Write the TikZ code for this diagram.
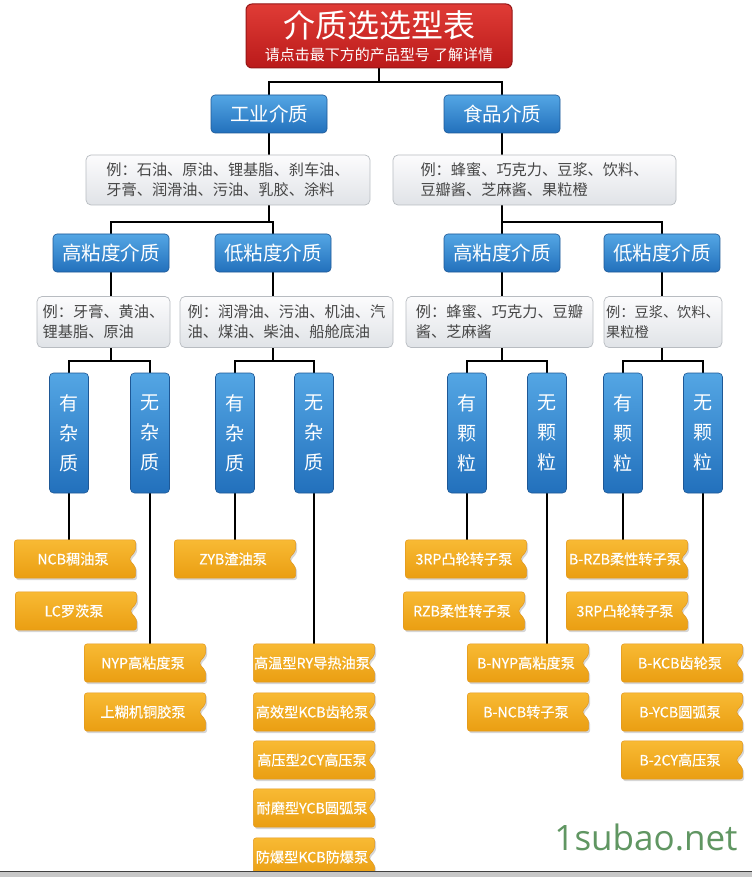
\documentclass[tikz,border=0pt]{standalone}
\usepackage{fontspec}
\setmainfont{Noto Sans CJK SC}
\newfontfamily\wmfont{Open Sans}
\newfontfamily\pumpfont{Noto Sans CJK SC}[FakeBold=0.5]
\usetikzlibrary{calc}
\pgfdeclarelayer{lines}
\pgfdeclarelayer{shapes}
\pgfsetlayers{lines,shapes,main}
\definecolor{redtop}{RGB}{224,60,54}
\definecolor{redbot}{RGB}{186,26,26}
\definecolor{redline}{RGB}{150,22,22}
\definecolor{bluetop}{RGB}{84,166,228}
\definecolor{bluebot}{RGB}{34,112,188}
\definecolor{blueline}{RGB}{30,88,150}
\definecolor{graytop}{RGB}{252,252,253}
\definecolor{graybot}{RGB}{224,227,231}
\definecolor{grayline}{RGB}{184,188,193}
\definecolor{graytext}{RGB}{70,70,70}
\definecolor{ortop}{RGB}{248,186,52}
\definecolor{orbot}{RGB}{234,158,18}
\definecolor{orline}{RGB}{226,152,30}
\definecolor{wmgreen}{RGB}{96,150,98}
\definecolor{barc}{RGB}{200,200,200}
\newcommand\pumppath[1]{(#1.north west) -- (#1.north east) -- ([yshift=-11pt]#1.north east) -- ([xshift=-7pt]#1.east) -- ([yshift=11pt]#1.south east) -- (#1.south east) -- (#1.south west) -- cycle}
\newcommand\pumpshape[1]{%
  \fill[black,opacity=.16,rounded corners=3pt,transform canvas={shift={(1.5pt,-2pt)}}] \pumppath{#1};
  \shade[top color=ortop,bottom color=orbot,draw=orline,line width=.5pt,rounded corners=3pt] \pumppath{#1};}
\tikzset{
  titlebox/.style={rounded corners=6pt,top color=redtop,bottom color=redbot,draw=redline,line width=1pt,
    minimum width=266pt,minimum height=64pt,text=white,align=center,inner sep=0pt},
  catbox/.style={rounded corners=4pt,top color=bluetop,bottom color=bluebot,draw=blueline,line width=.6pt,
    minimum width=116pt,minimum height=38pt,text=white,inner sep=0pt,font=\fontsize{19.5}{20}\selectfont},
  colbox/.style={rounded corners=4pt,top color=bluetop,bottom color=bluebot,draw=blueline,line width=.6pt,
    minimum width=39pt,minimum height=120pt,text=white,inner sep=0pt,align=center,font=\fontsize{19}{30}\selectfont},
  exbox/.style={rounded corners=5pt,top color=graytop,bottom color=graybot,draw=grayline,line width=.7pt,
    minimum height=50pt,text=graytext,inner sep=0pt,align=left,font=\fontsize{15.2}{20}\selectfont},
  pump/.style={minimum width=121pt,minimum height=38pt,text=white,inner sep=0pt,font=\pumpfont\fontsize{14.2}{16}\selectfont},
  ptext/.style={xshift=-2pt},
  conn/.style={draw=black,line width=1.2pt}
}
\begin{document}
\begin{tikzpicture}[x=1pt,y=-1pt]
\useasboundingbox (0,0) rectangle (752,877);
% title
\node[titlebox] (title) at (379,36) {\raisebox{-2pt}{\fontsize{32}{32}\selectfont 介质选选型表}\\[7pt]{\fontsize{15}{15}\selectfont 请点击最下方的产品型号 了解详情}};
% categories
\node[catbox] (ind) at (269,114) {工业介质};
\node[catbox] (food) at (502,114) {食品介质};
\node[exbox,minimum width=284pt] (exI) at (228,180) {例：石油、原油、锂基脂、刹车油、\\牙膏、润滑油、污油、乳胶、涂料};
\node[exbox,minimum width=283pt] (exF) at (534.5,180) {例：蜂蜜、巧克力、豆浆、饮料、\\豆瓣酱、芝麻酱、果粒橙};
\node[catbox] (ih) at (111,253) {高粘度介质};
\node[catbox] (il) at (273,253) {低粘度介质};
\node[catbox] (fh) at (502,253) {高粘度介质};
\node[catbox] (fl) at (662,253) {低粘度介质};
\node[exbox,minimum width=133pt,minimum height=51pt] (exa) at (103.5,322) {例：牙膏、黄油、\\锂基脂、原油};
\node[exbox,minimum width=213pt,minimum height=51pt] (exb) at (286.5,322) {例：润滑油、污油、机油、汽\\油、煤油、柴油、船舱底油};
\node[exbox,minimum width=187pt,minimum height=51pt] (exc) at (499.5,322) {例：蜂蜜、巧克力、豆瓣\\酱、芝麻酱};
\node[exbox,minimum width=118pt,minimum height=51pt,font=\fontsize{14.2}{20}\selectfont] (exd) at (663,322) {例：豆浆、饮料、\\果粒橙};
% columns
\node[colbox] (c1) at (69,433) {有\\杂\\质};
\node[colbox] (c2) at (150,433) {无\\杂\\质};
\node[colbox] (c3) at (235,433) {有\\杂\\质};
\node[colbox] (c4) at (314,433) {无\\杂\\质};
\node[colbox] (c5) at (467,433) {有\\颗\\粒};
\node[colbox] (c6) at (547,433) {无\\颗\\粒};
\node[colbox] (c7) at (623,433) {有\\颗\\粒};
\node[colbox] (c8) at (703,433) {无\\颗\\粒};
% pumps
\foreach \n/\x/\y/\t in {
  pa1/75/559/NCB稠油泵, pa2/76/611/LC罗茨泵, pb1/235/559/ZYB渣油泵,
  pc1/145/663/NYP高粘度泵, pc2/145/712/上糊机铜胶泵,
  pd1/314/663/高温型RY导热油泵, pd2/314/712/高效型KCB齿轮泵, pd3/314/760/高压型2CY高压泵,
  pd4/314/808/耐磨型YCB圆弧泵, pd5/314/857/防爆型KCB防爆泵,
  pe1/466/559/3RP凸轮转子泵, pe2/464/611/RZB柔性转子泵,
  pg1/627/559/B-RZB柔性转子泵, pg2/627/611/3RP凸轮转子泵,
  pf1/528/663/B-NYP高粘度泵, pf2/528/712/B-NCB转子泵,
  ph1/682/663/B-KCB齿轮泵, ph2/682/712/B-YCB圆弧泵, ph3/682/760/B-2CY高压泵}
  {\node[pump] (\n) at (\x,\y) {\hspace*{-4pt}\t};}
\begin{pgfonlayer}{shapes}
\foreach \n in {pa1,pa2,pb1,pc1,pc2,pd1,pd2,pd3,pd4,pd5,pe1,pe2,pg1,pg2,pf1,pf2,ph1,ph2,ph3}
  {\pumpshape{\n}}
\end{pgfonlayer}
% connectors
\begin{pgfonlayer}{lines}
\fill[white] (0,0) rectangle (752,877);
\coordinate (j0) at (379,82);
\coordinate (y1) at (0,222);
\coordinate (y2) at (0,361);
\draw[conn] (title.south) -- (j0) -| (ind.north);
\draw[conn] (j0) -| (food.north);
\draw[conn] (ind.south) -- (ind.south |- y1);
\draw[conn] (ih.north) |- (il.north |- y1) -- (il.north);
\draw[conn] (food.south) -- (food.south |- y1);
\draw[conn] (fh.north) |- (fl.north |- y1) -- (fl.north);
\draw[conn] (ih.south) -- (ih.south |- y2);
\draw[conn] (il.south) -- (il.south |- y2);
\draw[conn] (fh.south) -- (fh.south |- y2);
\draw[conn] (fl.south) -- (fl.south |- y2);
\draw[conn] (c1.north) |- (c2.north |- y2) -- (c2.north);
\draw[conn] (c3.north) |- (c4.north |- y2) -- (c4.north);
\draw[conn] (c5.north) |- (c6.north |- y2) -- (c6.north);
\draw[conn] (c7.north) |- (c8.north |- y2) -- (c8.north);
\draw[conn] (c1.south) -- (c1.south |- pa1.north);
\draw[conn] (c2.south) -- (c2.south |- pc1.north);
\draw[conn] (c3.south) -- (c3.south |- pb1.north);
\draw[conn] (c4.south) -- (c4.south |- pd1.north);
\draw[conn] (c5.south) -- (c5.south |- pe1.north);
\draw[conn] (c6.south) -- (c6.south |- pf1.north);
\draw[conn] (c7.south) -- (c7.south |- pg1.north);
\draw[conn] (c8.south) -- (c8.south |- ph1.north);
\end{pgfonlayer}
% watermark
\node[anchor=base,text=wmgreen,font=\wmfont\fontsize{35}{35}\selectfont,inner sep=0pt] (wm) at (646,850) {1subao.net};
% bottom bar
\fill[barc] (0,871) rectangle (752,877);
\draw[black!75,line width=1pt] (0,871) -- (752,871);
\end{tikzpicture}
\end{document}
